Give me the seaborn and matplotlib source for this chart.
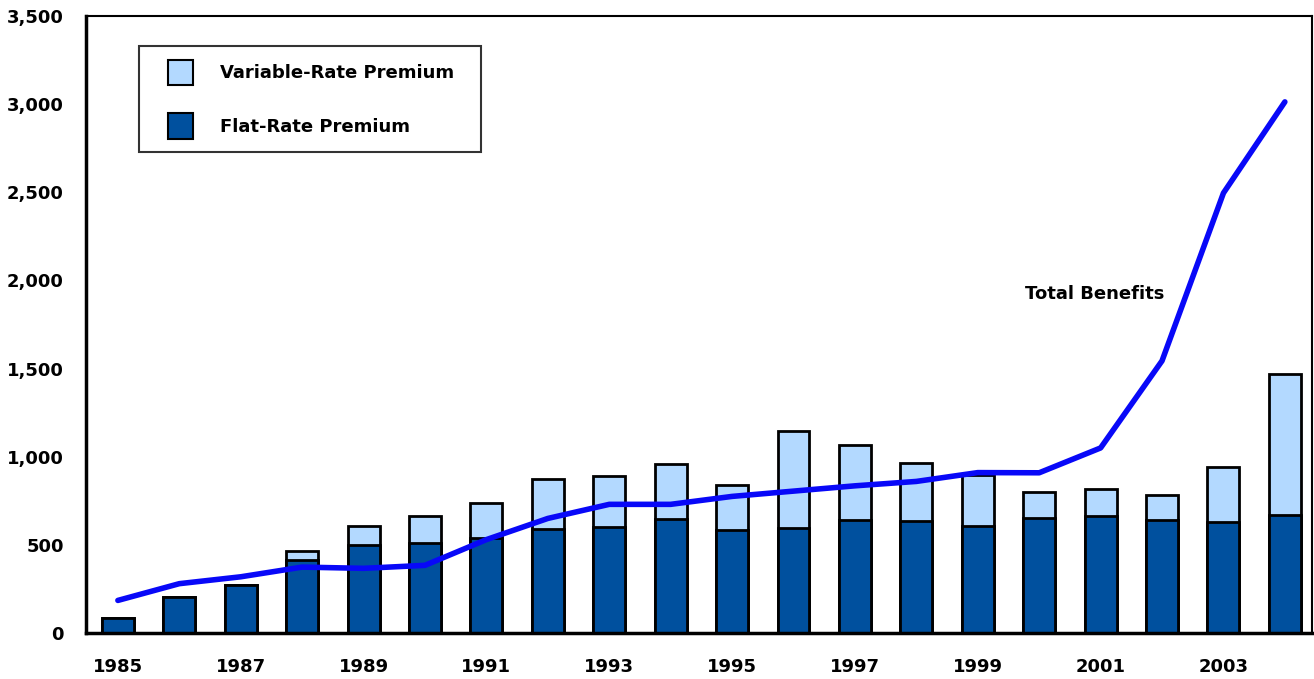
import numpy as np
import pandas as pd
import seaborn as sns
import matplotlib.pyplot as plt
from matplotlib.patches import Patch, Rectangle
from matplotlib.legend_handler import HandlerPatch

years = list(range(1985, 2005))
flat_rate = [85, 204, 272, 412, 502, 508, 540, 588, 603, 645, 584, 597, 641, 637,
             605, 653, 666, 642, 631, 670]
variable_rate = [0, 0, 0, 53, 105, 155, 200, 287, 287, 312, 255, 549, 425, 329,
                 290, 147, 150, 141, 311, 802]
total_benefits = [185, 280, 319, 374, 367, 384, 530, 650, 730, 730, 775, 805, 835, 860,
                  910, 909, 1050, 1544, 2496, 3013]

df = pd.DataFrame({'year': years, 'flat': flat_rate, 'variable': variable_rate,
                   'benefits': total_benefits})
df['premium_total'] = df['flat'] + df['variable']

light = '#B3D9FF'
dark = '#00509E'
line_blue = '#0808F8'

sns.set_style('white')
plt.rcParams['font.family'] = ['DejaVu Sans']
plt.rcParams['text.color'] = 'black'

fig = plt.figure(figsize=(13.14, 6.79), dpi=100)
ax = fig.add_axes([0.0654, 0.0677, 0.933, 0.9087])

sns.barplot(data=df, x='year', y='premium_total', color=light, width=0.52,
            edgecolor='black', linewidth=2, saturation=1, ax=ax)
sns.barplot(data=df, x='year', y='flat', color=dark, width=0.52,
            edgecolor='black', linewidth=2, saturation=1, ax=ax)
sns.lineplot(x=df.index, y=df['benefits'], color=line_blue, linewidth=4, ax=ax)

ax.set_xlim(-0.52, 19.44)
ax.set_ylim(0, 3500)
ax.set_yticks(np.arange(0, 3501, 500))
ax.set_yticklabels([f'{v:,}' for v in range(0, 3501, 500)])
ax.set_xticks(range(0, 20, 2))
ax.set_xticklabels([str(y) for y in years[::2]])
ax.set_xlabel('')
ax.set_ylabel('')

ax.tick_params(axis='y', direction='in', length=15, width=1.2, pad=16,
               labelsize=13, colors='black')
ax.tick_params(axis='x', length=0, pad=18, labelsize=13, colors='black')
for lab in ax.get_xticklabels() + ax.get_yticklabels():
    lab.set_fontweight('bold')

for side in ['left', 'bottom']:
    ax.spines[side].set_linewidth(2.5)
    ax.spines[side].set_color('black')
for side in ['top', 'right']:
    ax.spines[side].set_linewidth(1.5)
    ax.spines[side].set_color('black')
    ax.spines[side].set_visible(True)

ax.text(15.9, 1923, 'Total Benefits', ha='center', va='center',
        fontsize=13, fontweight='bold')


# square legend key pushed to the right end of the handle area
def square_key(legend, orig_handle, xdescent, ydescent, width, height, fontsize):
    side = height
    return Rectangle((-xdescent + width - side, -ydescent), side, height)


handles = [Patch(facecolor=light, edgecolor='black', linewidth=1.5),
           Patch(facecolor=dark, edgecolor='black', linewidth=1.5)]
leg = ax.legend(handles, ['Variable-Rate Premium', 'Flat-Rate Premium'],
                loc='upper left', bbox_to_anchor=(0.0432, 0.951, 0.279, 0.0),
                mode='expand', fontsize=13, handlelength=2.25, handleheight=1.8,
                handletextpad=1.5, labelspacing=1.55, borderpad=0.75,
                borderaxespad=0, fancybox=False, frameon=True,
                handler_map={Patch: HandlerPatch(patch_func=square_key)})
leg.get_frame().set_edgecolor('black')
leg.get_frame().set_linewidth(1.5)
leg.get_texts()[0].set_fontweight('bold')
leg.get_texts()[1].set_fontweight('semibold')

fig.savefig('out.png', dpi=100)
